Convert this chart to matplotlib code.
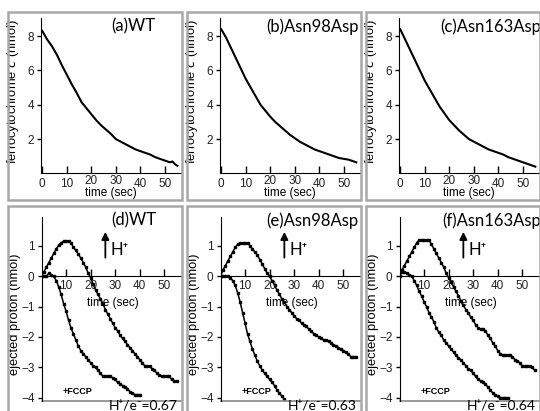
import matplotlib.pyplot as plt
from matplotlib.patches import Rectangle
from matplotlib.transforms import ScaledTranslation

# top row: ferrocytochrome c oxidation (nmol)
t_top = [0, 2, 4, 6, 8, 10, 12, 14, 16, 18, 20, 22, 24, 26, 28, 30, 32, 34, 36, 38, 40, 42, 44, 46, 48, 50, 52, 53, 54, 55]
cyt_wt = [8.3, 7.8, 7.4, 6.9, 6.3, 5.75, 5.2, 4.7, 4.15, 3.8, 3.45, 3.1, 2.8, 2.55, 2.3, 2.0, 1.85, 1.7, 1.55, 1.4,
          1.3, 1.2, 1.1, 0.95, 0.85, 0.75, 0.65, 0.7, 0.55, 0.45]
cyt_98 = [8.4, 7.9, 7.3, 6.7, 6.1, 5.5, 5.0, 4.5, 4.0, 3.65, 3.3, 3.0, 2.75, 2.5, 2.25, 2.05, 1.85, 1.7, 1.55, 1.4,
          1.3, 1.2, 1.1, 1.0, 0.9, 0.85, 0.8, 0.75, 0.7, 0.65]
cyt_163 = [8.4, 7.8, 7.2, 6.6, 6.0, 5.4, 4.9, 4.4, 3.9, 3.5, 3.1, 2.8, 2.5, 2.25, 2.0, 1.85, 1.7, 1.55, 1.4, 1.3,
           1.2, 1.1, 0.95, 0.85, 0.75, 0.65, 0.55, 0.5, 0.45, 0.4]

# bottom row: ejected protons (nmol), one point per second
h_wt = [0, 0.15, 0.3, 0.45, 0.6, 0.75, 0.9, 1.02, 1.1, 1.15, 1.15, 1.15, 1.1, 0.95, 0.85, 0.72, 0.6, 0.45, 0.3, 0.1,
        -0.05, -0.25, -0.45, -0.6, -0.75, -0.9, -1.1, -1.25, -1.4, -1.55, -1.7, -1.8, -1.95, -2.05, -2.15, -2.25,
        -2.35, -2.45, -2.55, -2.65, -2.75, -2.85, -2.95, -2.95, -2.95, -3.05, -3.1, -3.2, -3.25, -3.3, -3.3, -3.3,
        -3.3, -3.4, -3.45, -3.45]
fccp_wt = [0, 0, 0, 0.1, 0.05, 0, -0.15, -0.35, -0.6, -0.9, -1.15, -1.45, -1.7, -1.9, -2.1, -2.3, -2.45, -2.55,
           -2.65, -2.75, -2.85, -2.95, -3.0, -3.1, -3.2, -3.3, -3.3, -3.3, -3.3, -3.35, -3.4, -3.5, -3.55, -3.6,
           -3.65, -3.7, -3.8, -3.85, -3.9, -3.9, -3.9]
h_98 = [0, 0.2, 0.35, 0.5, 0.65, 0.8, 0.95, 1.05, 1.1, 1.1, 1.1, 1.1, 1.0, 0.9, 0.8, 0.7, 0.55, 0.4, 0.25, 0.1,
        0.0, -0.15, -0.3, -0.45, -0.6, -0.75, -0.85, -1.0, -1.1, -1.2, -1.3, -1.4, -1.45, -1.55, -1.6, -1.65,
        -1.75, -1.8, -1.9, -1.95, -2.0, -2.05, -2.1, -2.1, -2.15, -2.2, -2.25, -2.3, -2.35, -2.4, -2.45, -2.5,
        -2.55, -2.65, -2.65, -2.65]
fccp_98 = [0, 0, 0, 0, -0.05, -0.15, -0.3, -0.55, -0.85, -1.2, -1.55, -1.9, -2.15, -2.4, -2.6, -2.8, -2.95, -3.1,
           -3.2, -3.3, -3.4, -3.5, -3.6, -3.75, -3.85, -3.95, -4.05]
h_163 = [0, 0.2, 0.35, 0.5, 0.65, 0.8, 0.95, 1.1, 1.2, 1.2, 1.2, 1.2, 1.2, 1.05, 0.9, 0.75, 0.6, 0.45, 0.3, 0.1,
         -0.05, -0.2, -0.35, -0.5, -0.65, -0.8, -0.95, -1.1, -1.2, -1.35, -1.45, -1.6, -1.7, -1.75, -1.75, -1.8,
         -1.95, -2.05, -2.2, -2.3, -2.45, -2.55, -2.6, -2.6, -2.6, -2.6, -2.65, -2.75, -2.8, -2.85, -2.95, -2.95,
         -2.95, -2.95, -3.0, -3.1]
fccp_163 = [0, 0.15, 0.15, 0.1, 0.05, 0, -0.15, -0.3, -0.5, -0.65, -0.85, -1.0, -1.2, -1.35, -1.5, -1.7, -1.85,
            -1.95, -2.1, -2.2, -2.3, -2.4, -2.5, -2.6, -2.7, -2.75, -2.85, -2.95, -3.05, -3.1, -3.2, -3.3, -3.4,
            -3.45, -3.5, -3.55, -3.65, -3.75, -3.85, -3.9, -3.95, -4.0, -4.0, -4.0, -4.0]

top_titles = ["(a)WT", "(b)Asn98Asp", "(c)Asn163Asp"]
bottom_titles = ["(d)WT", "(e)Asn98Asp", "(f)Asn163Asp"]
ratios = ["0.67", "0.63", "0.64"]
top_ticks = [0, 10, 20, 30, 40, 50]
bottom_xticks = [10, 20, 30, 40, 50]
bottom_yticks = [-4, -3, -2, -1, 0, 1]

TICKFONT = ['Liberation Sans Narrow', 'Liberation Sans']
LABELFONT = ['Liberation Sans', 'DejaVu Sans']
TITLEFONT = ['Lato', 'DejaVu Sans']
W, H = 540, 411

fig = plt.figure(figsize=(5.4, 4.11), dpi=100)


def px_box(x0, y0, x1, y1):
    # pixel box (top-left origin) -> figure fraction [left, bottom, width, height]
    return [x0 / W, 1 - y1 / H, (x1 - x0) / W, (y1 - y0) / H]


col_x = [8, 187, 366]
col_w = 174

# grey panel frames
for cx in col_x:
    for (y0, y1) in [(12, 200), (206, 430)]:
        fig.patches.append(Rectangle((cx / W, 1 - y1 / H), col_w / W, (y1 - y0) / H,
                                     transform=fig.transFigure, fill=False,
                                     edgecolor='#a8a8a8', linewidth=1.8))

top_data = [cyt_wt, cyt_98, cyt_163]
for i in range(3):
    off = col_x[i] - 8
    ax = fig.add_axes(px_box(41 + off, 18, 181 + off, 173.5))
    ax.patch.set_alpha(0)
    ax.plot(t_top, top_data[i], color='black', linewidth=1.5)
    ax.set_xlim(-0.5, 56.5)
    ax.set_ylim(0, 9.05)
    ax.spines['top'].set_visible(False)
    ax.spines['right'].set_visible(False)
    ax.set_xticks(top_ticks)
    ax.set_yticks([2, 4, 6, 8])
    ax.tick_params(axis='x', direction='in', length=5, width=1, pad=3)
    ax.tick_params(axis='y', direction='out', length=3, width=1, pad=2)
    for lab in ax.get_xticklabels() + ax.get_yticklabels():
        lab.set_family(TICKFONT)
        lab.set_fontsize(8.5)
        lab.set_color('#222222')
    # the 20 and 30 labels sit a little higher, above the axis title
    for tk in ax.xaxis.get_major_ticks()[2:4]:
        tk.label1.set_transform(tk.label1.get_transform() + ScaledTranslation(0, 3 / 100, fig.dpi_scale_trans))
    ax.set_xlabel("time (sec)", family=LABELFONT, fontsize=8.5, labelpad=-2)
    ax.set_ylabel("ferrocytochrome $c$ (nmol)", family=LABELFONT, fontsize=9.3)
    ax.yaxis.set_label_coords(-0.145, 0.527)
    ax.text(37, 8.55, top_titles[i], family=TITLEFONT, fontsize=12, ha='center', va='center')

bottom_data = [(h_wt, fccp_wt), (h_98, fccp_98), (h_163, fccp_163)]
for i in range(3):
    off = col_x[i] - 8
    ax = fig.add_axes(px_box(41.5 + off, 217, 181 + off, 400.7))
    ax.patch.set_alpha(0)
    main, fccp = bottom_data[i]
    ax.plot(range(len(main)), main, color='black', linewidth=1.1, marker='s', markersize=2.1)
    ax.plot(range(len(fccp)), fccp, color='black', linewidth=1.1, marker='s', markersize=2.1)
    ax.set_xlim(0, 56.8)
    ax.set_ylim(-4.1, 1.95)
    ax.spines['top'].set_visible(False)
    ax.spines['right'].set_visible(False)
    ax.spines['bottom'].set_position(('data', 0))
    ax.axhline(ax.get_ylim()[0], color='#888888', linewidth=1.2, clip_on=False)
    ax.set_xticks(bottom_xticks)
    ax.set_yticks(bottom_yticks)
    ax.set_yticklabels([str(v).replace('-', '\u2212') for v in bottom_yticks])
    ax.tick_params(axis='x', direction='in', length=5, width=1, pad=3)
    ax.tick_params(axis='y', direction='out', length=3, width=1, pad=2)
    for lab in ax.get_xticklabels() + ax.get_yticklabels():
        lab.set_family(TICKFONT)
        lab.set_fontsize(8.5)
        lab.set_color('#222222')
    ax.text(29, -0.88, "time (sec)", family=LABELFONT, fontsize=8.5, ha='center', va='center')
    ax.set_ylabel("ejected proton (nmol)", family=LABELFONT, fontsize=9.3)
    ax.yaxis.set_label_coords(-0.148, 0.472)
    ax.text(37.4, 1.84, bottom_titles[i], family=TITLEFONT, fontsize=12, ha='center', va='center')
    ax.annotate("", xy=(26, 1.55), xytext=(26, 0.52),
                arrowprops=dict(arrowstyle='-|>', color='black', lw=1.3, mutation_scale=11))
    ax.text(28, 0.85, "H\u207a", family=TITLEFONT, fontsize=12, ha='left', va='center')
    ax.text(8.5, -3.8, "+FCCP", family=LABELFONT, fontsize=6.5, fontweight='bold', ha='left', va='center')
    ax.text(55.5, -4.25, "H\u207a/e\u207b=" + ratios[i], family=TITLEFONT, fontsize=10,
            ha='right', va='center', clip_on=False)

fig.savefig("out.png", dpi=100)
